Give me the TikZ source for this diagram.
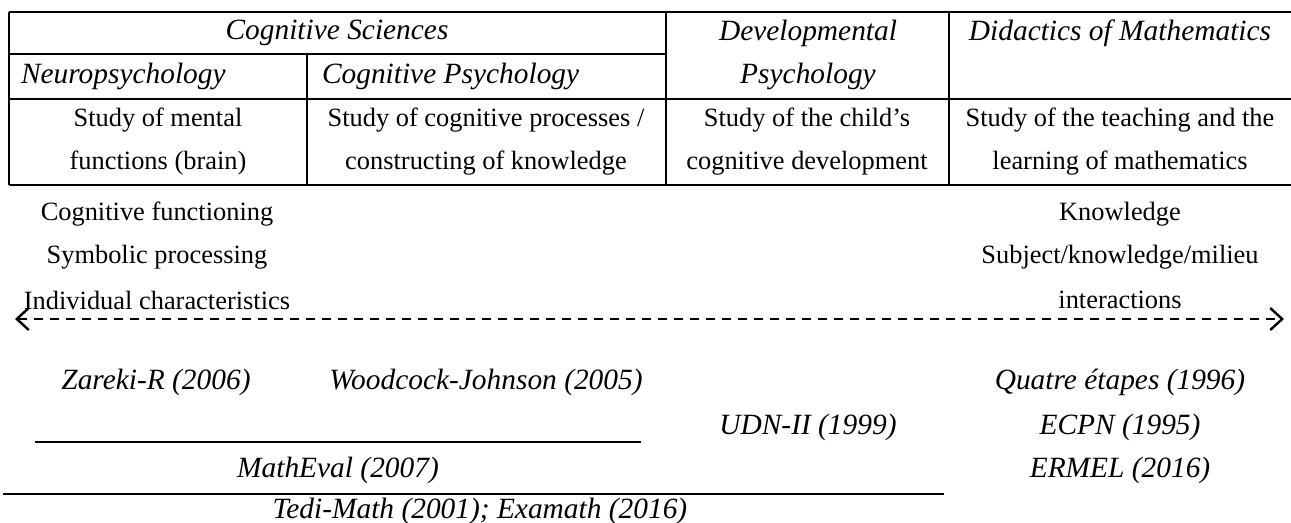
\documentclass[tikz,border=0pt]{standalone}
\usepackage{fontspec}
\setmainfont{Liberation Serif}
\usepackage{tikz}
\usetikzlibrary{arrows.meta}
\usetikzlibrary{positioning}
\tikzset{every picture/.style={line width=1pt}}

\begin{document}
\begin{tikzpicture}[x=0.5pt,y=-0.5pt,
txt/.style={inner sep=0pt,font=\fontsize{13.2}{16}\selectfont},
hd/.style={inner sep=0pt,font=\fontsize{14.7}{17}\selectfont\itshape},
bar/.style={line width=1.4pt},
da/.style={{Straight Barb[length=6pt,width=11pt,line width=1.2pt]}-{Straight Barb[length=6pt,width=11pt,line width=1.2pt]},dash pattern=on 4.5pt off 3.5pt,line width=1.2pt}]
\useasboundingbox (0,0) rectangle (1291,523);
% table frame
\draw (9,12) -- (1291,12);
\draw (9,54) -- (666,54);
\draw (9,99) -- (1291,99);
\draw (9,185) -- (1291,185);
\foreach \x/\t in {9/12,307/54,666/12,949/12} {
\draw (\x,\t) -- (\x,185);
}
% headers
\node (cs) at (337,33) [hd] {Cognitive Sciences};
\node (np) at (20,76) [hd,anchor=west] {Neuropsychology};
\node (cp) at (321,76) [hd,anchor=west] {Cognitive Psychology};
\node (dp1) at (808,33) [hd] {Developmental};
\node (dp2) at (808,76) [hd] {Psychology};
\node (dm) at (1120,33) [hd] {Didactics of Mathematics};
\foreach \n/\x/\a/\b in {c1/158/Study of mental/functions (brain),c2/486/{Study of cognitive processes /}/constructing of knowledge,c3/807/Study of the child’s/cognitive development,c4/1120/Study of the teaching and the/learning of mathematics} {
\node (\n a) at (\x,120) [txt] {\a};
\node (\n b) at (\x,163) [txt] {\b};
}
% topics
\foreach \t [count=\i] in {Cognitive functioning,Symbolic processing,Individual characteristics} {
\node (l\i) at (157,{171+43*\i}) [txt] {\t};
}
\foreach \t [count=\i] in {Knowledge,{Subject/knowledge/milieu},interactions} {
\node (r\i) at (1120,{171+43*\i}) [txt] {\t};
}
\coordinate (al) at (15,319);
\coordinate (ar) at (1284,319);
\draw[da] (al) -- (ar);
% tests
\node (zr) at (156,382) [hd] {Zareki-R (2006)};
\node (wj) at (486,382) [hd] {Woodcock-Johnson (2005)};
\node (udn) at (808,427) [hd] {UDN-II (1999)};
\node (me) at (338,470) [hd] {MathEval (2007)};
\node (tm) at (480,511) [hd] {Tedi-Math (2001); Examath (2016)};
\node (qe) at (1120,382) [hd] {Quatre étapes (1996)};
\node (ecpn) at (1120,427) [hd] {ECPN (1995)};
\node (erm) at (1120,470) [hd] {ERMEL (2016)};
\draw[bar] (35,442) -- (641,442);
\draw[bar] (3,494) -- (944,494);
\end{tikzpicture}
\end{document}
